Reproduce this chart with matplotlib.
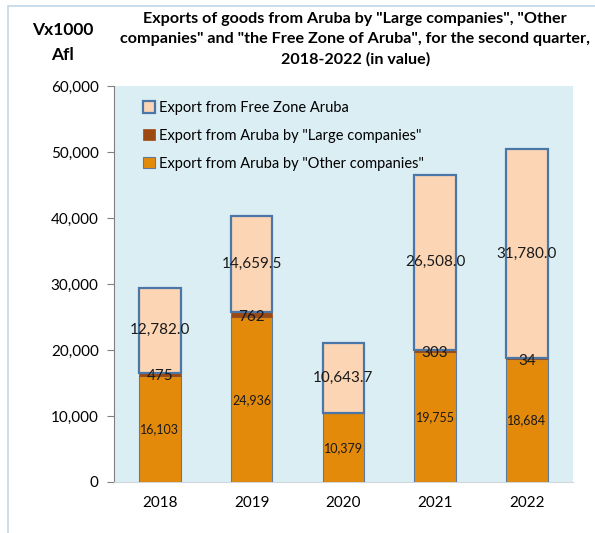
import matplotlib.pyplot as plt
import numpy as np
from matplotlib.patches import Rectangle

years = ["2018", "2019", "2020", "2021", "2022"]
other_companies = [16103, 24936, 10379, 19755, 18684]
large_companies = [475, 762, 0, 303, 34]
free_zone = [12782.0, 14659.5, 10643.7, 26508.0, 31780.0]

plt.rcParams["font.family"] = ["Lato", "DejaVu Sans"]

fig = plt.figure(figsize=(5.95, 5.33), dpi=100)
ax = fig.add_axes([0.1916, 0.0957, 0.771, 0.743])
ax.set_facecolor("#DBEEF4")

# light chart border (cropped at right/bottom)
fig.patches.append(Rectangle((8 / 595, -0.1), 2, 1.1 - 6 / 533, transform=fig.transFigure,
                             fill=False, edgecolor="#BFD7EA", linewidth=1.2, zorder=0))

x = np.arange(len(years))
w = 0.45
other = np.array(other_companies, dtype=float)
large = np.array(large_companies, dtype=float)
free = np.array(free_zone, dtype=float)

b_other = ax.bar(x, other, w, color="#E38A0B", edgecolor="#5B7A9C", linewidth=0.8,
                 label='Export from Aruba by "Other companies"', zorder=3)
b_large = ax.bar(x, large, w, bottom=other, color="#9C4A12", edgecolor="#9C4A12", linewidth=0.5,
                 label='Export from Aruba by "Large companies"', zorder=3)
b_free = ax.bar(x, free, w, bottom=other + large, color="#FCD5B5", edgecolor="#4A76A8", linewidth=1.6,
                label="Export from Free Zone Aruba", zorder=3)

for i in range(len(years)):
    ax.text(x[i], other[i] / 2, f"{other_companies[i]:,}", ha="center", va="center", fontsize=9,
            color="#1a1a1a", zorder=5)
    if large_companies[i] > 0:
        ax.text(x[i], other[i] + large[i] / 2 - 300, f"{large_companies[i]:,}", ha="center", va="center",
                fontsize=11, color="#1a1a1a", zorder=5)
    ax.text(x[i], other[i] + large[i] + free[i] / 2, f"{free_zone[i]:,.1f}", ha="center", va="center",
            fontsize=11, color="#1a1a1a", zorder=5)

ax.set_xlim(-0.5, len(years) - 0.5)
ax.set_ylim(0, 60000)
ax.set_yticks(range(0, 60001, 10000))
ax.set_yticklabels([f"{v:,}" for v in range(0, 60001, 10000)], fontsize=11)
ax.set_xticks(x)
ax.set_xticklabels(years, fontsize=11)
ax.tick_params(axis="x", length=0, pad=10)
ax.tick_params(axis="y", length=5, direction="out", color="#808080", pad=6)

for s in ["top", "right"]:
    ax.spines[s].set_visible(False)
ax.spines["left"].set_color("#808080")
ax.spines["left"].set_bounds(0, 60000)
ax.spines["bottom"].set_color("#D0D8DD")

handles = [b_free, b_large, b_other]
leg = ax.legend(handles, [h.get_label() for h in handles], loc="upper left",
                bbox_to_anchor=(0.035, 0.995), frameon=False, fontsize=10.5,
                handlelength=0.8, handleheight=0.8, handletextpad=0.3, labelspacing=0.95)

fig.text(0.597, 0.978, 'Exports of goods from Aruba by "Large companies", "Other\n'
         'companies" and "the Free Zone of Aruba", for the second quarter,\n'
         '2018-2022 (in value)', ha="center", va="top", fontsize=11.6, fontweight="bold",
         linespacing=1.55)
fig.text(0.105, 0.958, "Vx1000\nAfl", ha="center", va="top", fontsize=12.5, fontweight="bold",
         linespacing=1.65)

fig.savefig("out.png", dpi=100)
